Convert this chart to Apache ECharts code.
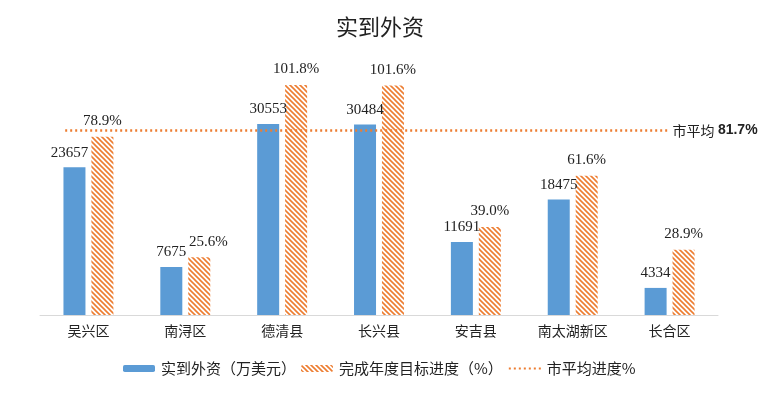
<!DOCTYPE html>
<html>
<head>
<meta charset="utf-8">
<script src="https://cdn.jsdelivr.net/npm/echarts@6/dist/echarts.min.js"></script>
<style>
html, body { margin: 0; padding: 0; background: #fff; }
#main { width: 768px; height: 399px; }
</style>
</head>
<body>
<div id="main"></div>
<script>
// data
const categories = ['吴兴区', '南浔区', '德清县', '长兴县', '安吉县', '南太湖新区', '长合区']
const investment = [23657, 7675, 30553, 30484, 11691, 18475, 4334]
const progress = [78.9, 25.6, 101.8, 101.6, 39.0, 61.6, 28.9]
const cityAvg = 81.7

const blue = '#5B9BD5'
const orange = '#ED7D31'

// diagonal hatch for the progress bars
function hatch() {
  const c = document.createElement('canvas')
  c.width = 5
  c.height = 5
  const ctx = c.getContext('2d')
  ctx.fillStyle = '#fff'
  ctx.fillRect(0, 0, 5, 5)
  ctx.strokeStyle = orange
  ctx.lineWidth = 1.6
  ctx.beginPath()
  ctx.moveTo(-1, -1); ctx.lineTo(6, 6)
  ctx.moveTo(-1, 4); ctx.lineTo(1, 6)
  ctx.moveTo(4, -1); ctx.lineTo(6, 1)
  ctx.stroke()
  return { image: c, repeat: 'repeat' }
}

const serif = '"Liberation Serif", "Noto Sans CJK SC", serif'
const cjk = '"Noto Sans CJK SC", sans-serif'

// a few labels are nudged sideways in the original
const invData = investment.map((v, i) => (i === 0 ? { value: v, label: { offset: [-5, 0] } } : v))
const progData = progress.map((v, i) => (i === 1 ? { value: v, label: { offset: [9, 0] } } : v))

let myChart = echarts.init(document.getElementById('main'))
myChart.setOption({
  animation: false,
  backgroundColor: '#fff',
  title: {
    text: '实到外资',
    left: 331,
    top: 11,
    textStyle: { fontFamily: cjk, fontSize: 22, fontWeight: 'normal', color: '#222' },
  },
  legend: {
    bottom: 18,
    left: 118,
    itemWidth: 32,
    itemHeight: 7,
    itemGap: 5,
    textStyle: { fontFamily: cjk, fontSize: 15, color: '#222', padding: [0, 0, 0, 1] },
    data: [
      '实到外资（万美元）',
      '完成年度目标进度（%）',
      { name: '市平均进度%', itemStyle: { opacity: 0 } },
    ],
  },
  grid: { left: 40, right: 50, top: 65, bottom: 84 },
  xAxis: [
    {
      type: 'category',
      data: categories,
      axisLine: { lineStyle: { color: '#d9d9d9', width: 1 } },
      axisTick: { show: false },
      axisLabel: { fontFamily: cjk, fontSize: 14, color: '#222', margin: 9 },
    },
    { type: 'value', min: -0.5, max: 6.5, show: false },
  ],
  yAxis: [
    { type: 'value', min: 0, max: 40000, show: false, splitLine: { show: false } },
    { type: 'value', min: 0, max: 110.65, show: false, splitLine: { show: false } },
  ],
  series: [
    {
      name: '实到外资（万美元）',
      type: 'bar',
      data: invData,
      barWidth: 22,
      barGap: '27%',
      itemStyle: { color: blue },
      label: {
        show: true,
        position: 'top',
        distance: 7,
        fontFamily: serif,
        fontSize: 15,
        color: '#222',
      },
    },
    {
      name: '完成年度目标进度（%）',
      type: 'bar',
      yAxisIndex: 1,
      data: progData,
      barWidth: 22,
      itemStyle: { color: hatch() },
      label: {
        show: true,
        position: 'top',
        distance: 8,
        fontFamily: serif,
        fontSize: 15,
        color: '#222',
        formatter: (p) => p.value.toFixed(1) + '%',
      },
    },
    {
      name: '市平均进度%',
      type: 'line',
      xAxisIndex: 1,
      yAxisIndex: 1,
      symbol: 'none',
      data: [[-0.24, cityAvg], [6, cityAvg]],
      lineStyle: { color: orange, width: 2.5, type: [2, 3] },
      itemStyle: { color: orange },
      endLabel: {
        show: true,
        distance: 3,
        formatter: '{a|市平均} {b|' + cityAvg + '%}',
        rich: {
          a: { fontFamily: cjk, fontSize: 14, color: '#222' },
          b: { fontFamily: '"Liberation Sans", sans-serif', fontSize: 14, fontWeight: 'bold', color: '#222' },
        },
      },
    },
  ],
})
</script>
</body>
</html>
